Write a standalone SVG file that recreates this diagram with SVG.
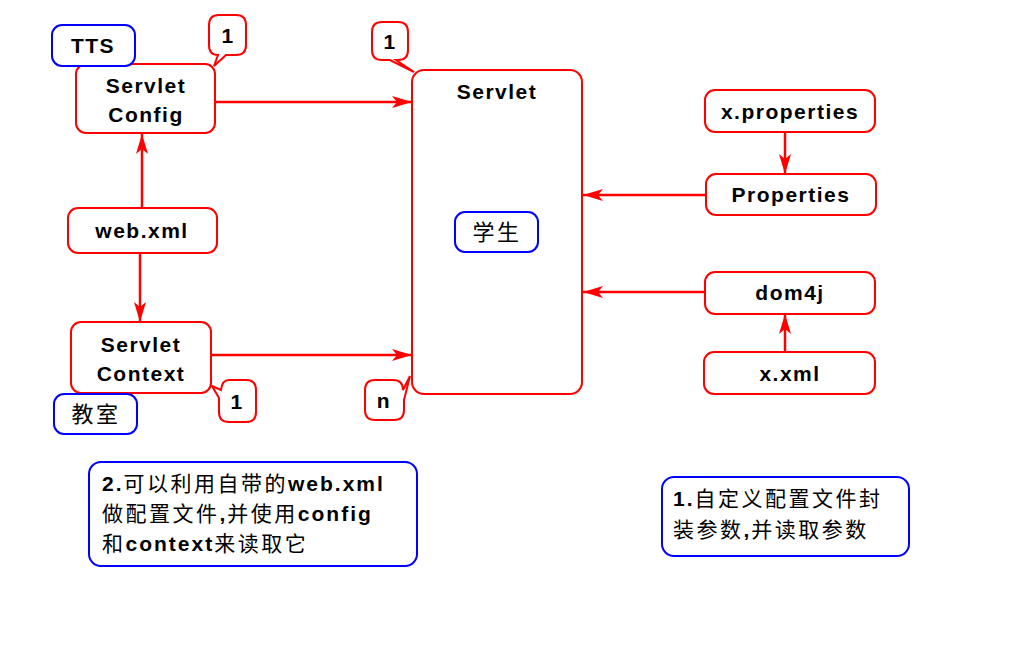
<svg xmlns="http://www.w3.org/2000/svg" width="1024" height="645" viewBox="0 0 1024 645">
<defs>
<style>
.r{fill:#fff;stroke:#f00;stroke-width:2}
.b{fill:#fff;stroke:#00f;stroke-width:2}
.t{font-family:"Liberation Sans",Arial,sans-serif;font-weight:bold;font-size:21px;letter-spacing:1.5px;fill:#000;text-anchor:middle}
.c{font-family:"Liberation Sans","Noto Sans CJK SC",sans-serif;font-size:21px;letter-spacing:2.5px;fill:#000}
.cb{font-weight:bold;letter-spacing:2px}
.e{stroke:#f00;stroke-width:2.5;fill:none}
</style>
<marker id="ah" viewBox="0 0 20 12" refX="20" refY="6" markerWidth="20" markerHeight="12" markerUnits="userSpaceOnUse" orient="auto">
<path d="M0,0 L20,6 L0,12 L5,6 Z" fill="#f00"/>
</marker>
</defs>
<rect width="1024" height="645" fill="#fff"/>
<g id="connectors">
<line class="e" x1="215" y1="102" x2="412" y2="102" marker-end="url(#ah)"/>
<line class="e" x1="211" y1="355" x2="412" y2="355" marker-end="url(#ah)"/>
<line class="e" x1="142" y1="208" x2="142" y2="134" marker-end="url(#ah)"/>
<line class="e" x1="140" y1="253" x2="140" y2="322" marker-end="url(#ah)"/>
<line class="e" x1="706" y1="195" x2="583" y2="195" marker-end="url(#ah)"/>
<line class="e" x1="705" y1="292" x2="583" y2="292" marker-end="url(#ah)"/>
<line class="e" x1="785" y1="132" x2="785" y2="174" marker-end="url(#ah)"/>
<line class="e" x1="785" y1="352" x2="785" y2="314" marker-end="url(#ah)"/>
</g>
<g id="servlet">
<rect class="r" x="412" y="70" width="170" height="324" rx="12"/>
<text class="t" x="497" y="99">Servlet</text>
</g>
<g id="student">
<rect class="b" x="455" y="212" width="83" height="40" rx="10"/>
<text class="c" x="497" y="240" text-anchor="middle" style="font-size:22px">学生</text>
</g>
<g id="servlet-config">
<rect class="r" x="76" y="64" width="139" height="69" rx="10"/>
<text class="t" x="146" y="93">Servlet</text>
<text class="t" x="146" y="122">Config</text>
</g>
<g id="tts">
<rect class="b" x="52" y="25" width="83" height="41" rx="10"/>
<text class="t" x="93" y="53">TTS</text>
</g>
<g id="callout-config">
<path class="r" d="M219,15 H236 Q246,15 246,25 V45 Q246,55 236,55 H226 L214,66 L218,55 Q209,55 209,45 V25 Q209,15 219,15 Z"/>
<text class="t" x="228" y="43">1</text>
</g>
<g id="callout-servlet">
<path class="r" d="M382,22 H398 Q408,22 408,32 V50 Q408,60 398,60 H396 L414,72 L390,60 H382 Q372,60 372,50 V32 Q372,22 382,22 Z"/>
<text class="t" x="390" y="49">1</text>
</g>
<g id="web-xml">
<rect class="r" x="68" y="208" width="149" height="45" rx="10"/>
<text class="t" x="142" y="238">web.xml</text>
</g>
<g id="servlet-context">
<rect class="r" x="71" y="322" width="140" height="71" rx="10"/>
<text class="t" x="141" y="352">Servlet</text>
<text class="t" x="141" y="381">Context</text>
</g>
<g id="callout-context">
<path class="r" d="M229,380 H246 Q256,380 256,390 V412 Q256,422 246,422 H229 Q219,422 219,412 V398 L212,386 L221,390 Q222,380 229,380 Z"/>
<text class="t" x="237" y="409">1</text>
</g>
<g id="classroom">
<rect class="b" x="54" y="394" width="83" height="40" rx="10"/>
<text class="c" x="96" y="422" text-anchor="middle" style="font-size:22px">教室</text>
</g>
<g id="callout-n">
<path class="r" d="M375,380 H393 Q403,380 403,390 L410,376 L404,400 V410 Q404,420 394,420 H375 Q365,420 365,410 V390 Q365,380 375,380 Z"/>
<text class="t" x="384" y="408">n</text>
</g>
<g id="x-properties">
<rect class="r" x="705" y="90" width="170" height="42" rx="10"/>
<text class="t" x="790" y="119">x.properties</text>
</g>
<g id="properties">
<rect class="r" x="706" y="174" width="170" height="41" rx="10"/>
<text class="t" x="791" y="202">Properties</text>
</g>
<g id="dom4j">
<rect class="r" x="705" y="272" width="170" height="42" rx="10"/>
<text class="t" x="790" y="300">dom4j</text>
</g>
<g id="x-xml">
<rect class="r" x="704" y="352" width="171" height="42" rx="10"/>
<text class="t" x="790" y="381">x.xml</text>
</g>
<g id="note-2">
<rect class="b" x="89" y="462" width="328" height="104" rx="12"/>
<text class="c" x="102" y="491"><tspan class="cb">2.</tspan>可以利用自带的<tspan class="cb">web.xml</tspan></text>
<text class="c" x="102" y="521">做配置文件<tspan class="cb">,</tspan>并使用<tspan class="cb">config</tspan></text>
<text class="c" x="102" y="551">和<tspan class="cb">context</tspan>来读取它</text>
</g>
<g id="note-1">
<rect class="b" x="662" y="477" width="247" height="79" rx="12"/>
<text class="c" x="673" y="506"><tspan class="cb">1.</tspan>自定义配置文件封</text>
<text class="c" x="673" y="537">装参数<tspan class="cb">,</tspan>并读取参数</text>
</g>
</svg>
